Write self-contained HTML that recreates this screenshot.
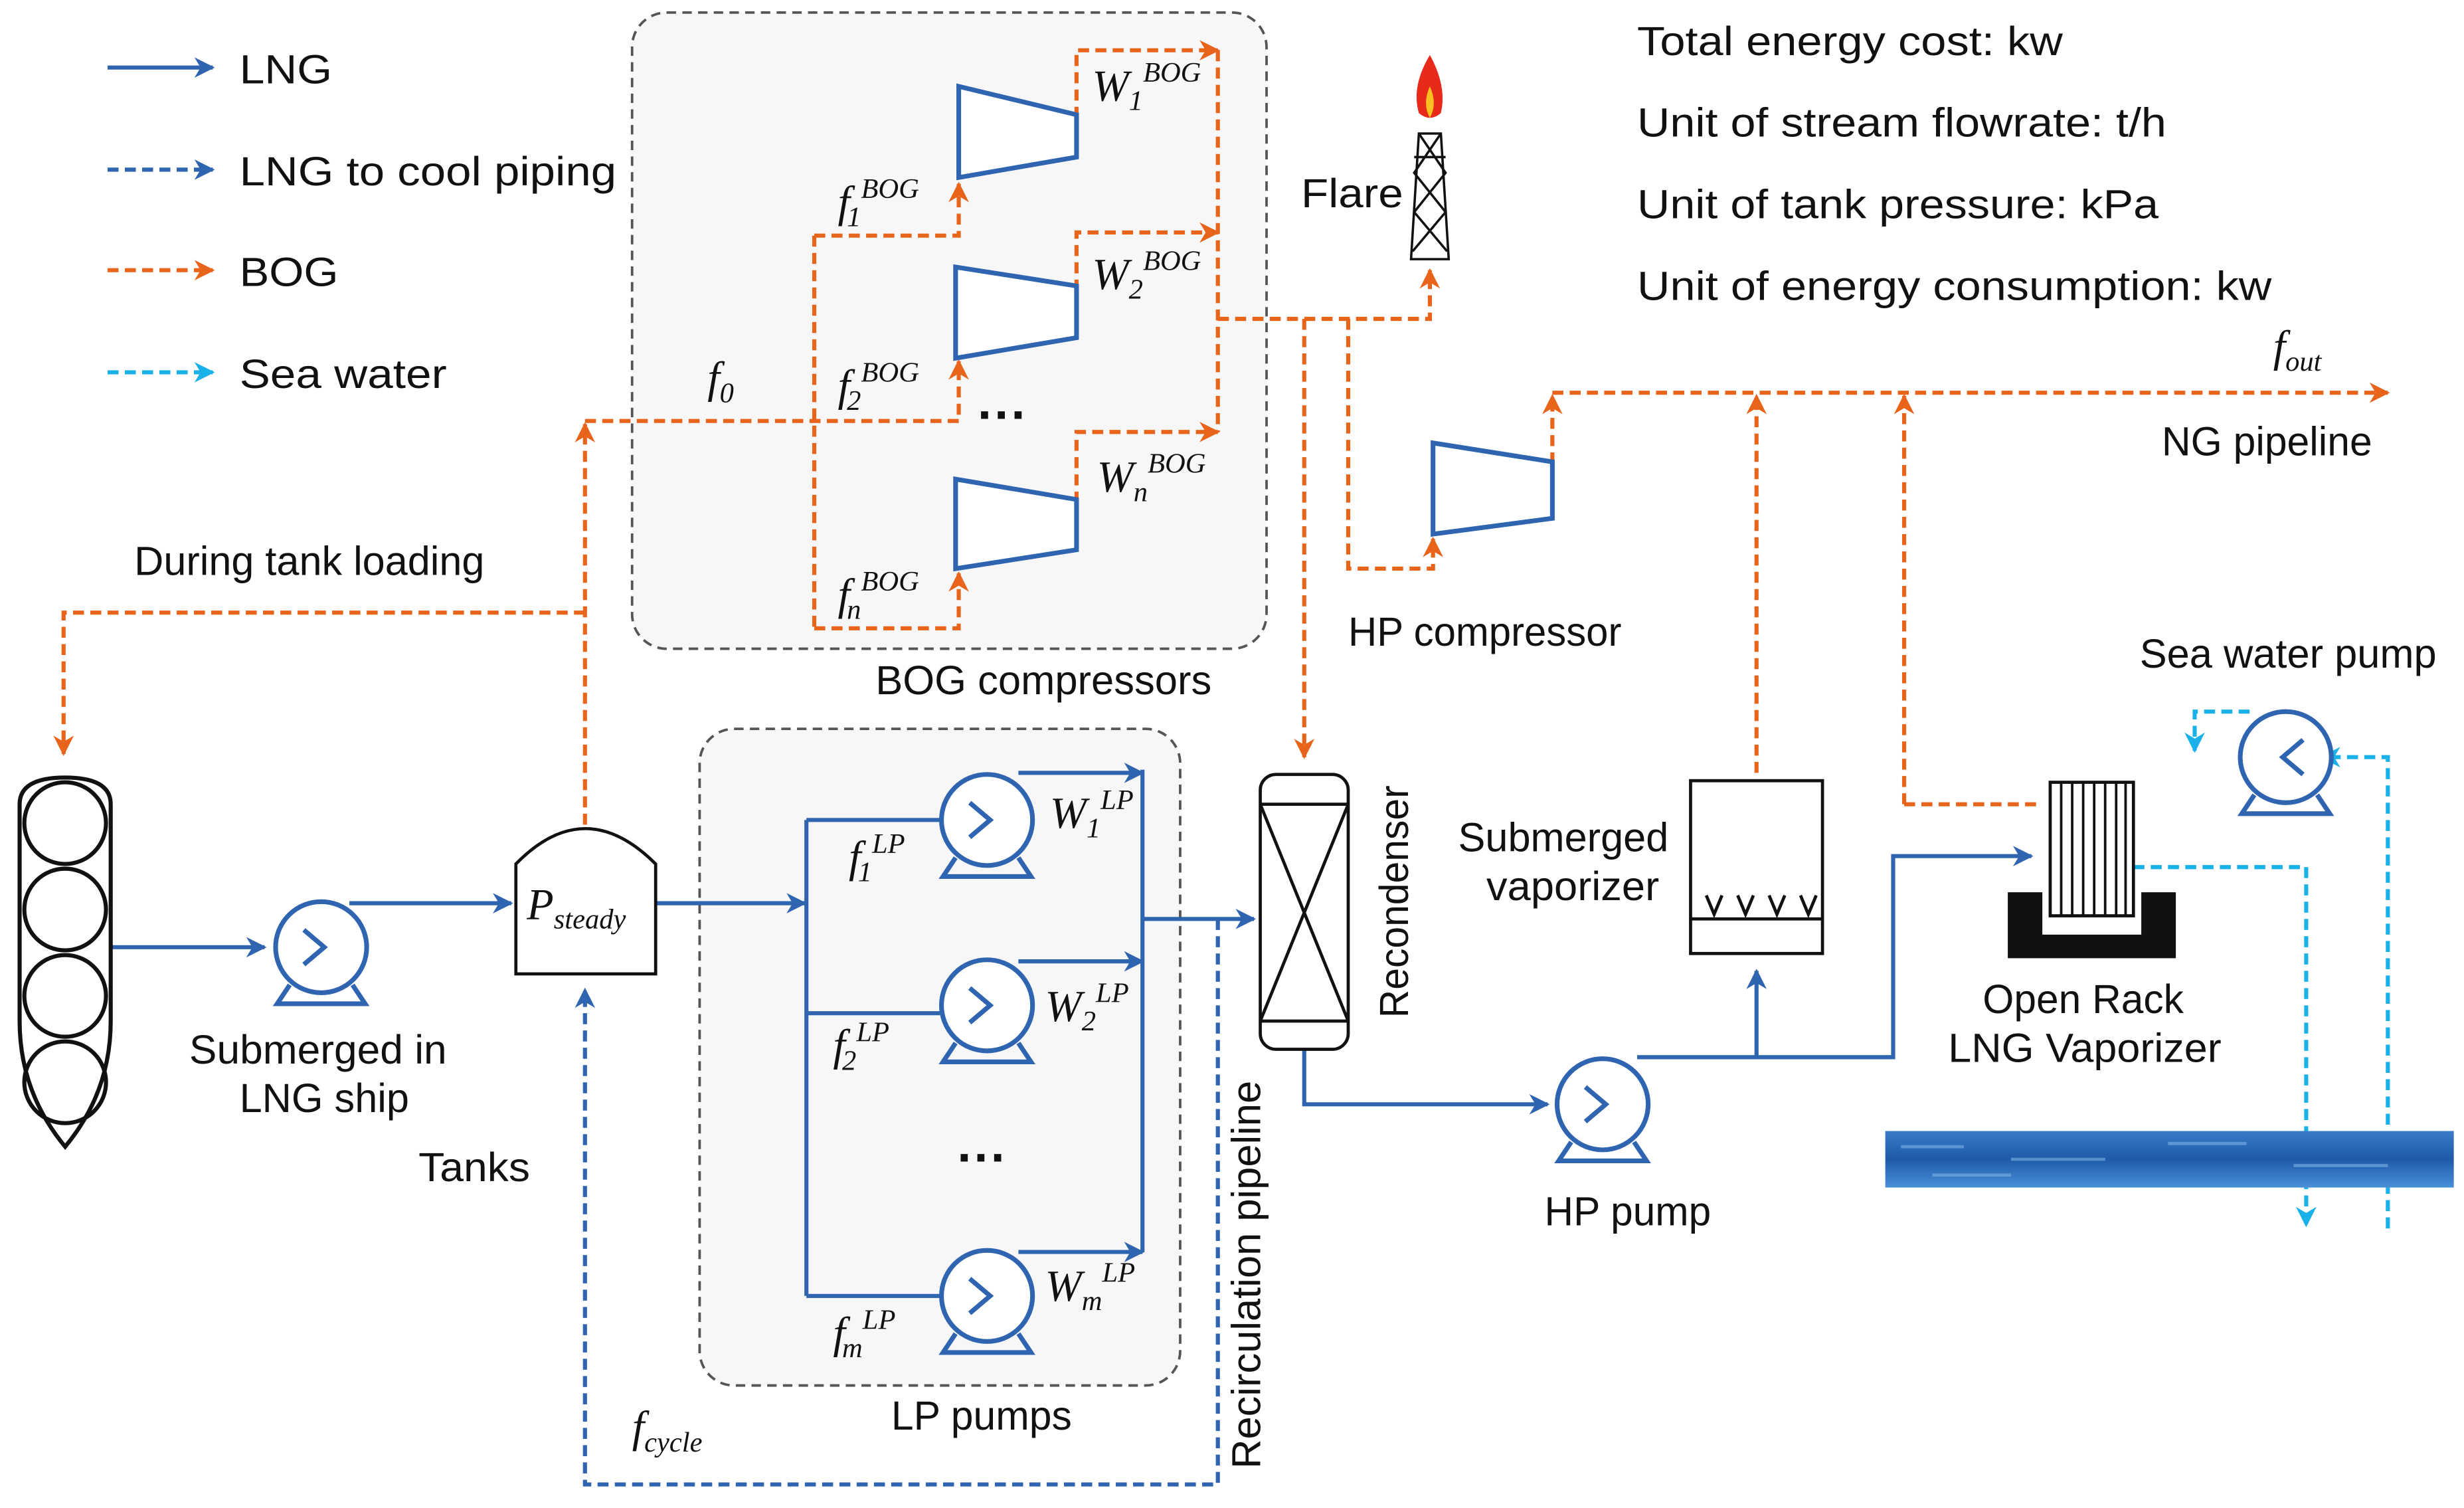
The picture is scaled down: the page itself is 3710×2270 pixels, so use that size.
<!DOCTYPE html>
<html><head><meta charset="utf-8"><style>
html,body{margin:0;padding:0;background:#fff;}
svg{display:block;}
text{font-family:"Liberation Sans",sans-serif;font-size:26px;fill:#111;}
.m{font-family:"Liberation Serif",serif;font-style:italic;font-size:28px;}
.s{font-size:18px;}
</style></head><body>
<svg width="3710" height="2270" viewBox="0 0 1568 960" xmlns="http://www.w3.org/2000/svg">
<defs>
<marker id="ab" viewBox="0 0 10 10" refX="9" refY="5" markerWidth="5" markerHeight="5" orient="auto"><path d="M0,0L10,5L0,10L3,5z" fill="#2e64b0"/></marker>
<marker id="ao" viewBox="0 0 10 10" refX="9" refY="5" markerWidth="5" markerHeight="5" orient="auto"><path d="M0,0L10,5L0,10L3,5z" fill="#e8641b"/></marker>
<marker id="ac" viewBox="0 0 10 10" refX="9" refY="5" markerWidth="5" markerHeight="5" orient="auto"><path d="M0,0L10,5L0,10L3,5z" fill="#1ab0e8"/></marker>
<linearGradient id="wv" x1="0" y1="0" x2="0" y2="1"><stop offset="0" stop-color="#3a7cc8"/><stop offset="0.5" stop-color="#1d5aa8"/><stop offset="1" stop-color="#4a90d8"/></linearGradient>
<g id="pump"><circle cx="0" cy="0" r="29" fill="#fff" stroke="#2e64b0" stroke-width="3"/><path d="M-20,24L-28,36H28L20,24" fill="none" stroke="#2e64b0" stroke-width="3"/></g>
</defs>
<g fill="none" stroke-width="2.6">
<rect x="402" y="8" width="404" height="405" rx="22" fill="#f7f7f7" stroke="#555" stroke-dasharray="6,4" stroke-width="1.6"/>
<rect x="445" y="464" width="306" height="418" rx="22" fill="#f7f7f7" stroke="#555" stroke-dasharray="6,4" stroke-width="1.6"/>
<line x1="68" y1="43" x2="135" y2="43" stroke="#2e64b0" marker-end="url(#ab)"/>
<line x1="68" y1="108" x2="135" y2="108" stroke="#2e64b0" stroke-dasharray="7,4" marker-end="url(#ab)"/>
<line x1="68" y1="172" x2="135" y2="172" stroke="#e8641b" stroke-dasharray="7,4" marker-end="url(#ao)"/>
<line x1="68" y1="237" x2="135" y2="237" stroke="#1ab0e8" stroke-dasharray="7,4" marker-end="url(#ac)"/>
<g stroke="#e8641b" stroke-dasharray="7,4">
<path d="M372,525V270" marker-end="url(#ao)"/>
<path d="M372,390H40V480" marker-end="url(#ao)"/>
<path d="M372,268H610V230" marker-end="url(#ao)"/>
<path d="M518,150V400"/>
<path d="M518,150H610V117" marker-end="url(#ao)"/>
<path d="M518,400H610V365" marker-end="url(#ao)"/>
<path d="M685,75V32H775" marker-end="url(#ao)"/>
<path d="M685,185V148H775" marker-end="url(#ao)"/>
<path d="M685,320V275H775" marker-end="url(#ao)"/>
<path d="M775,32V275"/>
<path d="M775,203H910V172" marker-end="url(#ao)"/>
<path d="M830,203V482" marker-end="url(#ao)"/>
<path d="M858,203V362H912V343" marker-end="url(#ao)"/>
<path d="M988,295V252" marker-end="url(#ao)"/>
<path d="M988,250H1520" marker-end="url(#ao)"/>
<path d="M1118,492V252" marker-end="url(#ao)"/>
<path d="M1212,512V252" marker-end="url(#ao)"/>
<path d="M1212,512H1300"/>
</g>
<g stroke="#2e64b0" stroke-width="3" fill="#fff">
<path d="M610,55L685,73V100L610,113z"/>
<path d="M608,170L685,182V215L608,228z"/>
<path d="M608,305L685,318V350L608,362z"/>
<path d="M912,282L988,294V330L912,340z"/>
</g>
<g stroke="#2e64b0">
<path d="M70,603H168" marker-end="url(#ab)"/>
<path d="M222,575H325" marker-end="url(#ab)"/>
<path d="M417,575H512" marker-end="url(#ab)"/>
<path d="M513,522V825"/>
<path d="M513,522H598"/><path d="M513,645H598"/><path d="M513,825H598"/>
<path d="M648,492H727" marker-end="url(#ab)"/>
<path d="M648,612H727" marker-end="url(#ab)"/>
<path d="M648,797H727" marker-end="url(#ab)"/>
<path d="M727,490V797"/>
<path d="M727,585H798" marker-end="url(#ab)"/>
<path d="M830,668V703H985" marker-end="url(#ab)"/>
<path d="M1042,673H1205V545H1293" marker-end="url(#ab)"/>
<path d="M1118,673V618" marker-end="url(#ab)"/>
<path d="M775,585V945H372V630" stroke-dasharray="7,4" marker-end="url(#ab)"/>
</g>
<g stroke="#1ab0e8" stroke-dasharray="7,4">
<path d="M1358,552H1468V780" marker-end="url(#ac)"/>
<path d="M1520,782V482H1478" marker-end="url(#ac)"/>
<path d="M1432,453H1397V478" marker-end="url(#ac)"/>
</g>
<use href="#pump" x="204" y="603"/>
<use href="#pump" x="628" y="522"/><use href="#pump" x="628" y="640"/><use href="#pump" x="628" y="825"/>
<use href="#pump" x="1020" y="703"/>
<use href="#pump" x="1455" y="482"/>
<g stroke="#2e64b0" stroke-width="3"><path d="M193,592L206,603L193,614M617,511L630,522L617,533M617,629L630,640L617,651M617,814L630,825L617,836M1009,692L1022,703L1009,714M1466,471L1453,482L1466,493"/></g>
<path d="M12,512Q12,495 41,495Q70,495 70,512V650Q70,695 41,730Q12,695 12,650z" stroke="#111" fill="#fff"/>
<g stroke="#111"><circle cx="41" cy="524" r="26"/><circle cx="41" cy="579" r="26"/><circle cx="41" cy="634" r="26"/><circle cx="41" cy="689" r="26"/></g>
<path d="M328,620V550Q372,505 417,550V620z" stroke="#111" fill="#fff" stroke-width="2"/>
<rect x="802" y="493" width="56" height="175" rx="10" stroke="#111" fill="#fff" stroke-width="2"/>
<path d="M802,512H858M802,650H858M802,512L858,650M858,512L802,650" stroke="#111" stroke-width="2"/>
<rect x="1076" y="497" width="84" height="110" stroke="#111" fill="#fff" stroke-width="2"/>
<path d="M1076,585H1160M1086,570l5,12l5,-12M1106,570l5,12l5,-12M1126,570l5,12l5,-12M1146,570l5,12l5,-12" stroke="#111" stroke-width="2"/>
<path d="M1278,568H1300V595H1363V568H1385V610H1278z" fill="#111"/>
<rect x="1305" y="498" width="53" height="85" stroke="#111" fill="#fff" stroke-width="2"/>
<path d="M1312,498V583M1319,498V583M1326,498V583M1333,498V583M1340,498V583M1347,498V583M1353,498V583" stroke="#111" stroke-width="1.6"/>
<rect x="1200" y="720" width="362" height="36" fill="url(#wv)"/>
<path d="M1210,730h40M1280,738h60M1380,728h50M1460,742h60M1230,748h50" stroke="#7fb2e6" stroke-width="2" opacity="0.6"/>
<path d="M898,165L903,85H917L922,165zM903,85L920,110L900,135L921,160M917,85L900,110L920,135L899,160M900,100H920" stroke="#111" stroke-width="1.5" fill="#fff"/>
<path d="M910,35Q898,55 903,72Q910,78 917,72Q921,55 910,35z" fill="#e82a1a"/>
<path d="M910,55Q905,66 910,75Q915,66 910,55z" fill="#f8c020"/>
</g>
<g style="font-size:28px">
<text x="152" y="53" textLength="59" lengthAdjust="spacingAndGlyphs">LNG</text>
<text x="152" y="118" textLength="240" lengthAdjust="spacingAndGlyphs">LNG to cool piping</text>
<text x="152" y="182" textLength="63" lengthAdjust="spacingAndGlyphs">BOG</text>
<text x="152" y="247" textLength="132" lengthAdjust="spacingAndGlyphs">Sea water</text>
<text x="1042" y="35" textLength="271" lengthAdjust="spacingAndGlyphs">Total energy cost: kw</text>
<text x="1042" y="87" textLength="337" lengthAdjust="spacingAndGlyphs">Unit of stream flowrate: t/h</text>
<text x="1042" y="139" textLength="332" lengthAdjust="spacingAndGlyphs">Unit of tank pressure: kPa</text>
<text x="1042" y="191" textLength="404" lengthAdjust="spacingAndGlyphs">Unit of energy consumption: kw</text>
</g>
<text x="828" y="132" textLength="65" lengthAdjust="spacingAndGlyphs">Flare</text>
<text x="85" y="366" textLength="223" lengthAdjust="spacingAndGlyphs">During tank loading</text>
<text x="557" y="442" textLength="214" lengthAdjust="spacingAndGlyphs">BOG  compressors</text>
<text x="858" y="411" textLength="174" lengthAdjust="spacingAndGlyphs">HP compressor</text>
<text x="1376" y="290" textLength="134" lengthAdjust="spacingAndGlyphs">NG pipeline</text>
<text x="1362" y="425" textLength="189" lengthAdjust="spacingAndGlyphs">Sea water pump</text>
<text x="928" y="542" textLength="134" lengthAdjust="spacingAndGlyphs">Submerged</text>
<text x="946" y="573" textLength="110" lengthAdjust="spacingAndGlyphs">vaporizer</text>
<text x="1262" y="645" textLength="128" lengthAdjust="spacingAndGlyphs">Open Rack</text>
<text x="1240" y="676" textLength="174" lengthAdjust="spacingAndGlyphs">LNG Vaporizer</text>
<text x="120" y="677" textLength="164" lengthAdjust="spacingAndGlyphs">Submerged  in</text>
<text x="152" y="708" textLength="108" lengthAdjust="spacingAndGlyphs">LNG ship</text>
<text x="266" y="752" textLength="71" lengthAdjust="spacingAndGlyphs">Tanks</text>
<text x="983" y="780" textLength="106" lengthAdjust="spacingAndGlyphs">HP pump</text>
<text x="567" y="910" textLength="115" lengthAdjust="spacingAndGlyphs">LP pumps</text>
<text transform="translate(896,648) rotate(-90)" textLength="148" lengthAdjust="spacingAndGlyphs">Recondenser</text>
<text transform="translate(802,935) rotate(-90)" textLength="247" lengthAdjust="spacingAndGlyphs">Recirculation pipeline</text>
<text x="622" y="275" style="font-size:32px;font-weight:bold">···</text>
<text x="609" y="748" style="font-size:32px;font-weight:bold">···</text>
<text class="m" x="335" y="585">P<tspan class="s" dy="6">steady</tspan></text>
<text class="m" x="450" y="250">f<tspan class="s" dy="6">0</tspan></text>
<text class="m" x="1447" y="230">f<tspan class="s" dy="6">out</tspan></text>
<text class="m" x="402" y="918">f<tspan class="s" dy="6">cycle</tspan></text>
<text class="m" x="533" y="138">f<tspan class="s" dx="-2" dy="6">1</tspan><tspan class="s" dy="-18">BOG</tspan></text>
<text class="m" x="533" y="255">f<tspan class="s" dx="-2" dy="6">2</tspan><tspan class="s" dy="-18">BOG</tspan></text>
<text class="m" x="533" y="388">f<tspan class="s" dx="-2" dy="6">n</tspan><tspan class="s" dy="-18">BOG</tspan></text>
<text class="m" x="695" y="64">W<tspan class="s" dy="6">1</tspan><tspan class="s" dy="-18">BOG</tspan></text>
<text class="m" x="695" y="184">W<tspan class="s" dy="6">2</tspan><tspan class="s" dy="-18">BOG</tspan></text>
<text class="m" x="698" y="313">W<tspan class="s" dy="6">n</tspan><tspan class="s" dy="-18">BOG</tspan></text>
<text class="m" x="540" y="555">f<tspan class="s" dx="-2" dy="6">1</tspan><tspan class="s" dy="-18">LP</tspan></text>
<text class="m" x="530" y="675">f<tspan class="s" dx="-2" dy="6">2</tspan><tspan class="s" dy="-18">LP</tspan></text>
<text class="m" x="530" y="858">f<tspan class="s" dx="-2" dy="6">m</tspan><tspan class="s" dy="-18">LP</tspan></text>
<text class="m" x="668" y="527">W<tspan class="s" dy="6">1</tspan><tspan class="s" dy="-18">LP</tspan></text>
<text class="m" x="665" y="650">W<tspan class="s" dy="6">2</tspan><tspan class="s" dy="-18">LP</tspan></text>
<text class="m" x="665" y="828">W<tspan class="s" dy="6">m</tspan><tspan class="s" dy="-18">LP</tspan></text>
</svg>
</body></html>
